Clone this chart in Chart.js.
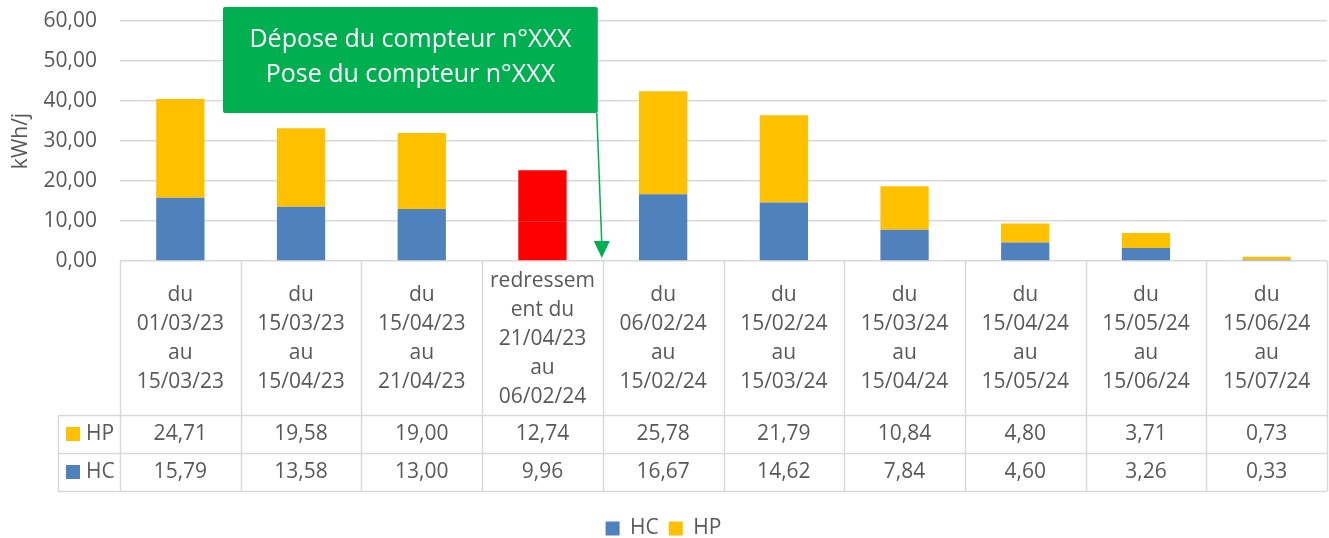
<!DOCTYPE html>
<html><head><meta charset="utf-8">
<script src="https://cdn.jsdelivr.net/npm/chart.js@4/dist/chart.umd.min.js"></script>
<style>html,body{margin:0;padding:0;background:#fff;overflow:hidden}</style>
</head><body>
<canvas id="c" width="1329" height="538" style="width:1329px;height:538px;display:block"></canvas>
<script>
const categories = [
  ['du','01/03/23','au','15/03/23'],
  ['du','15/03/23','au','15/04/23'],
  ['du','15/04/23','au','21/04/23'],
  ['redressem','ent du','21/04/23','au','06/02/24'],
  ['du','06/02/24','au','15/02/24'],
  ['du','15/02/24','au','15/03/24'],
  ['du','15/03/24','au','15/04/24'],
  ['du','15/04/24','au','15/05/24'],
  ['du','15/05/24','au','15/06/24'],
  ['du','15/06/24','au','15/07/24']
];
const hcValues = [15.79, 13.58, 13.00, 9.96, 16.67, 14.62, 7.84, 4.60, 3.26, 0.33];
const hpValues = [24.71, 19.58, 19.00, 12.74, 25.78, 21.79, 10.84, 4.80, 3.71, 0.73];
const yMin = 0, yMax = 60, yStep = 10;
const highlightIndex = 3;
const calloutLines = ['Dépose du compteur n°XXX', 'Pose du compteur n°XXX'];

const BLUE = '#4F81BD', YELLOW = '#FFC000', RED = '#FF0000', GREEN = '#00B050';
const TXT = '#595959', GRID = '#D9D9D9';
const FONT = '"Open Sans", "DejaVu Sans", sans-serif';
const fmt = v => v.toFixed(2).replace('.', ',');

const tablePlugin = {
  id: 'dataTable',
  afterDraw(chart) {
    const ctx = chart.ctx, xs = chart.scales.x, ys = chart.scales.y, ca = chart.chartArea;
    const n = categories.length;
    const colW = (ca.right - ca.left) / n;
    const top = ys.getPixelForValue(0);
    const hdrH = 154, rowH = 38;
    const legLeft = ca.left - 62;
    ctx.save();
    ctx.strokeStyle = GRID; ctx.lineWidth = 1.5;
    for (let i = 0; i <= n; i++) {
      const x = Math.round(ca.left + i * colW) + 0.5;
      ctx.beginPath(); ctx.moveTo(x, top); ctx.lineTo(x, top + hdrH + 2 * rowH); ctx.stroke();
    }
    ctx.beginPath(); ctx.moveTo(legLeft + 0.5, top + hdrH); ctx.lineTo(legLeft + 0.5, top + hdrH + 2 * rowH); ctx.stroke();
    for (let r = 0; r <= 2; r++) {
      const y = Math.round(top + hdrH + r * rowH) + 0.5;
      ctx.beginPath(); ctx.moveTo(legLeft, y); ctx.lineTo(ca.right, y); ctx.stroke();
    }
    ctx.fillStyle = TXT; ctx.textAlign = 'center'; ctx.textBaseline = 'middle';
    ctx.font = '21px ' + FONT;
    const lineH = 29;
    categories.forEach((lines, i) => {
      const cx = xs.getPixelForValue(i);
      const cy = top + hdrH / 2 + 1;
      const y0 = cy - (lines.length - 1) * lineH / 2;
      lines.forEach((t, k) => ctx.fillText(t, cx, y0 + k * lineH));
      ctx.fillText(fmt(hpValues[i]), cx, top + hdrH + rowH / 2);
      ctx.fillText(fmt(hcValues[i]), cx, top + hdrH + rowH * 1.5);
    });
    const rows = [['HP', YELLOW], ['HC', BLUE]];
    rows.forEach(([lab, col], r) => {
      const cy = top + hdrH + rowH * (r + 0.5);
      ctx.fillStyle = col; ctx.fillRect(legLeft + 8, cy - 7, 14, 14);
      ctx.fillStyle = TXT; ctx.textAlign = 'left';
      ctx.fillText(lab, legLeft + 28, cy);
    });
    const ax = xs.getPixelForValue(highlightIndex + 0.5);
    const bx0 = 223, bx1 = ax - 5, by0 = 7, by1 = 113;
    ctx.fillStyle = GREEN;
    ctx.beginPath();
    if (ctx.roundRect) ctx.roundRect(bx0, by0, bx1 - bx0, by1 - by0, 2); else ctx.rect(bx0, by0, bx1 - bx0, by1 - by0);
    ctx.fill();
    ctx.strokeStyle = GREEN; ctx.lineWidth = 1.5;
    const tipY = top - 3;
    ctx.beginPath(); ctx.moveTo(bx1 - 1, by1); ctx.lineTo(ax - 1, tipY - 14); ctx.stroke();
    ctx.beginPath(); ctx.moveTo(ax - 9, tipY - 17); ctx.lineTo(ax + 7, tipY - 17); ctx.lineTo(ax - 1, tipY); ctx.closePath(); ctx.fill();
    ctx.fillStyle = '#FFFFFF'; ctx.textAlign = 'center'; ctx.font = '25px ' + FONT;
    const mx = (bx0 + bx1) / 2;
    ctx.fillText(calloutLines[0], mx, 40);
    ctx.fillText(calloutLines[1], mx, 75);
    ctx.restore();
  }
};

const barColor = base => (c => c.dataIndex === highlightIndex ? RED : base);

new Chart(document.getElementById('c'), {
  type: 'bar',
  data: {
    labels: categories,
    datasets: [
      { label: 'HC', data: hcValues, backgroundColor: barColor(BLUE), borderWidth: 0 },
      { label: 'HP', data: hpValues, backgroundColor: barColor(YELLOW), borderWidth: 0 }
    ]
  },
  options: {
    responsive: false,
    animation: false,
    devicePixelRatio: 1,
    layout: { padding: { top: 0, right: 2, left: 0, bottom: -11 } },
    datasets: { bar: { barPercentage: 0.4, categoryPercentage: 1 } },
    plugins: {
      tooltip: { enabled: false },
      legend: {
        position: 'bottom',
        labels: {
          color: TXT, font: { family: FONT, size: 21 }, boxWidth: 14, boxHeight: 14, padding: 10,
          generateLabels: () => [
            { text: 'HC', fillStyle: BLUE, strokeStyle: BLUE, lineWidth: 0, fontColor: TXT, datasetIndex: 0 },
            { text: 'HP', fillStyle: YELLOW, strokeStyle: YELLOW, lineWidth: 0, fontColor: TXT, datasetIndex: 1 }
          ]
        }
      }
    },
    scales: {
      x: {
        stacked: true,
        grid: { display: false },
        border: { display: false },
        ticks: { display: false },
        afterFit: s => { s.height = 247; }
      },
      y: {
        stacked: true,
        min: yMin, max: yMax,
        afterFit: s => { s.width = 120; s.paddingTop = 21; s.paddingBottom = 0; },
        ticks: { stepSize: yStep, color: TXT, font: { family: FONT, size: 21 }, padding: 23, callback: v => fmt(v) },
        grid: { color: GRID, lineWidth: 1.5, drawTicks: false },
        border: { display: false },
        title: { display: true, text: 'kWh/j', color: TXT, font: { family: FONT, size: 21 }, padding: { top: 8, bottom: 0 } }
      }
    }
  },
  plugins: [tablePlugin]
});
</script>
</body></html>
